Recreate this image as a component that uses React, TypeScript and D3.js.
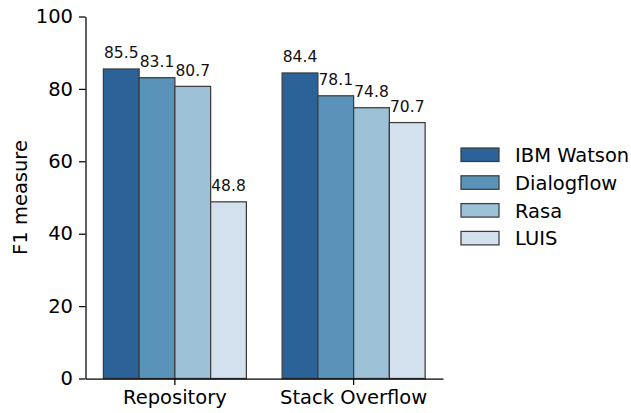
import React, { useRef, useEffect } from 'react';
import * as d3 from 'd3';

const groups = ['Repository', 'Stack Overflow'];
const services = ['IBM Watson', 'Dialogflow', 'Rasa', 'LUIS'];
const repositoryScores = [85.5, 83.1, 80.7, 48.8];
const stackOverflowScores = [84.4, 78.1, 74.8, 70.7];
const yTicks = [0, 20, 40, 60, 80, 100];
const colors = ['#2b6399', '#5a93b9', '#9dc1d6', '#d3e1ee'];

const App: React.FC = () => {
  const svgRef = useRef<SVGSVGElement>(null);

  useEffect(() => {
    if (!svgRef.current) return;
    const svg = d3.select(svgRef.current);
    svg.selectAll('*').remove();

    const font = 'DejaVu Sans';
    const fs = 19.5;
    const left = 85.5, right = 443, top = 16.5, bottom = 378.5;
    const table = [repositoryScores, stackOverflowScores];

    const x = d3.scaleBand().domain(groups).range([left, right]).paddingInner(0.2).paddingOuter(0.1);
    const xs = d3.scaleBand().domain(services).range([0, x.bandwidth()]);
    const y = d3.scaleLinear().domain([0, 100]).range([bottom, top]);
    const color = d3.scaleOrdinal<string, string>().domain(services).range(colors);

    // bars + value labels
    groups.forEach((grp, gi) => {
      const g = svg.append('g').attr('transform', `translate(${x(grp)},0)`);
      services.forEach((s, si) => {
        const v = table[gi][si];
        g.append('rect')
          .attr('x', xs(s)!)
          .attr('y', y(v))
          .attr('width', xs.bandwidth())
          .attr('height', y(0) - y(v))
          .attr('fill', color(s))
          .attr('stroke', '#3c3c3c')
          .attr('stroke-width', 1.25);
        g.append('text')
          .attr('x', xs(s)! + xs.bandwidth() / 2)
          .attr('y', y(v) - 10.5)
          .attr('text-anchor', 'middle')
          .attr('font-family', font)
          .attr('font-size', 15.5)
          .attr('fill', '#111')
          .text(v.toFixed(1));
      });
    });

    // y axis
    const yAxis = svg.append('g')
      .attr('transform', `translate(${left},0)`)
      .call(d3.axisLeft(y).tickValues(yTicks).tickSize(6.5).tickPadding(6).tickSizeOuter(0));
    yAxis.select('.domain').attr('stroke', '#000').attr('stroke-width', 1.25);
    yAxis.selectAll('.tick line').attr('stroke', '#000').attr('stroke-width', 1.25);
    yAxis.selectAll('text').attr('font-family', font).attr('font-size', fs).attr('fill', '#000');

    // x axis
    const xAxis = svg.append('g')
      .attr('transform', `translate(0,${bottom})`)
      .call(d3.axisBottom(x).tickSize(6.5).tickPadding(5.5).tickSizeOuter(0));
    xAxis.select('.domain').attr('stroke', '#000').attr('stroke-width', 1.25);
    xAxis.selectAll('.tick line').attr('stroke', '#000').attr('stroke-width', 1.25);
    xAxis.selectAll('text').attr('font-family', font).attr('font-size', fs).attr('fill', '#000');

    // y label
    svg.append('text')
      .attr('transform', `translate(27,${(top + bottom) / 2}) rotate(-90)`)
      .attr('text-anchor', 'middle')
      .attr('font-family', font)
      .attr('font-size', fs)
      .attr('fill', '#000')
      .text('F1 measure');

    // legend
    const legend = svg.append('g').attr('transform', 'translate(461,148)');
    services.forEach((s, i) => {
      const row = legend.append('g').attr('transform', `translate(0,${i * 27.8})`);
      row.append('rect')
        .attr('width', 38).attr('height', 13.5)
        .attr('fill', color(s))
        .attr('stroke', '#3c3c3c')
        .attr('stroke-width', 1.25);
      row.append('text')
        .attr('x', 54).attr('y', 14)
        .attr('font-family', font)
        .attr('font-size', fs)
        .attr('fill', '#000')
        .text(s);
    });
  }, []);

  return <svg ref={svgRef} width={631} height={413} style={{ position: 'absolute', left: 0, top: 0 }} />;
};

export default App;
